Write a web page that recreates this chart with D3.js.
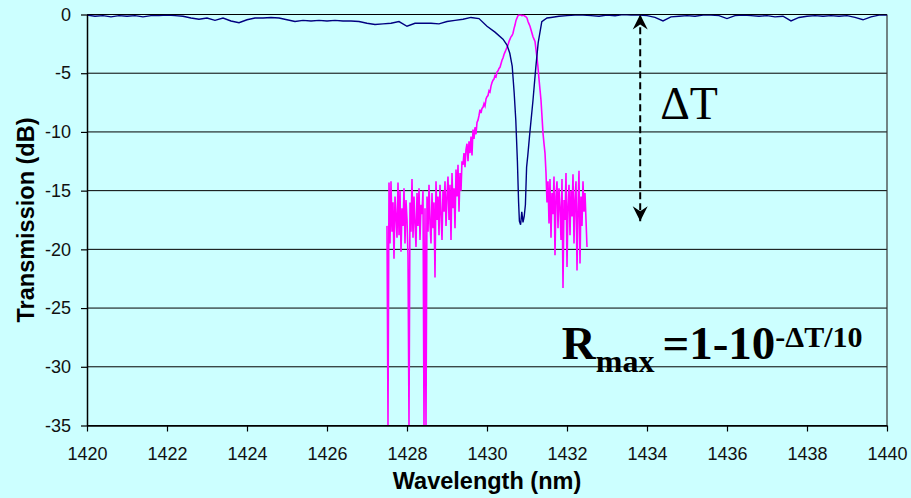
<!DOCTYPE html>
<html>
<head>
<meta charset="utf-8">
<script src="https://cdn.jsdelivr.net/npm/d3@7"></script>
<style>
  body { margin: 0; background: #ccffff; }
  .chart { display: block; background: #ccffff; }
  .axis text { font-family: "Liberation Sans", Arial, sans-serif; font-size: 18px; fill: #111; }
  .axis .domain { stroke: #000; stroke-width: 1.5; }
  .axis line { stroke: #000; stroke-width: 1.2; }
  .grid line { stroke: #000; stroke-width: 1; }
  .title { font-family: "Liberation Sans", Arial, sans-serif; font-weight: bold; font-size: 23.5px; fill: #000; }
</style>
</head>
<body>
<svg class="chart"></svg>
<script>
var margin = {top: 14.5, right: 24, bottom: 72.5, left: 87},
    width = 911 - margin.left - margin.right,
    height = 498 - margin.top - margin.bottom;

var xTicks = [1420, 1422, 1424, 1426, 1428, 1430, 1432, 1434, 1436, 1438, 1440];
var yTicks = [0, -5, -10, -15, -20, -25, -30, -35];

// blue (navy) trace: flat parts on a 0.2 nm grid, the notch as [nm, dB] pairs
var blueLeftStart = 1420, blueRightStart = 1431.6, blueStep = 0.2;
var blueLeft = [
  -0.05, -0.15, -0.1, -0.2, -0.1,
  -0.15, -0.1, -0.2, -0.1, -0.1,
  -0.05, -0.1, -0.15, -0.3, -0.4,
  -0.3, -0.5, -0.3, -0.55, -0.7,
  -0.45, -0.3, -0.3, -0.25, -0.3,
  -0.45, -0.6, -0.5, -0.55, -0.5,
  -0.55, -0.5, -0.55, -0.55, -0.6,
  -0.75, -0.85, -0.8, -0.75, -0.6,
  -1.0, -0.75, -0.75, -0.75, -0.8,
  -0.6, -0.5, -0.4, -0.25, -0.35,
  -1.0, -1.5, -2.1];
var blueNotch = [
  [1430.5, -2.6], [1430.57, -3.3], [1430.63, -4.4], [1430.68, -6.7], [1430.72, -9.0],
  [1430.76, -12.5], [1430.79, -16], [1430.81, -17.6], [1430.84, -17.9], [1430.87, -16.8],
  [1430.9, -17.7], [1430.93, -17.2], [1430.96, -16.2], [1430.99, -13], [1431.02, -12],
  [1431.07, -10.1], [1431.15, -7.3], [1431.22, -4.5], [1431.28, -2.4], [1431.37, -0.6],
  [1431.5, -0.3]];
var blueRight = [
  -0.25, -0.15,
  -0.1, -0.05, -0.05, -0.1, -0.15,
  -0.05, -0.1, 0, -0.05, -0.05,
  -0.1, -0.25, -0.55, -0.2, -0.15,
  -0.1, -0.15, -0.05, -0.05, -0.1,
  -0.35, -0.1, -0.05, -0.1, -0.15,
  -0.1, -0.2, -0.15, -0.55, -0.25,
  -0.15, -0.1, -0.15, -0.1, -0.15,
  -0.1, -0.25, -0.45, -0.2, -0.05,
  -0.05];

// magenta trace on a 0.025 nm grid from 1427.5 nm
var magStart = 1427.5, magStep = 0.025;
var magNoiseLeft = [
  -18.0, -35, -14.3, -19.5, -14.2, -18.5, -16.0, -20.8, -15.5, -17.2,
  -19.0, -14.3, -18.8, -15.0, -20.2, -16.5, -18.0, -14.8, -19.5, -15.8,
  -17.5, -20.5, -35, -16.0, -18.5, -14.0, -19.0, -15.5, -17.8, -19.8,
  -15.2, -18.0, -14.8, -19.2, -16.2, -17.0, -15.0, -35, -16.5, -35,
  -15.5, -18.5, -14.5, -17.8, -19.5, -15.2, -18.2, -16.0, -22.4, -14.2,
  -17.5, -15.5, -18.8, -14.5, -17.0, -19.2, -15.0, -16.8, -14.2, -18.0,
  -15.5, -13.8, -17.5, -14.5, -19.2, -13.5, -16.5, -14.8, -18.2, -13.2,
  -15.5, -12.8, -16.8, -13.5, -15.0, -12.5, -12.8, -11.8, -13.0, -11.5];
var magPeak = [
  -11.0, -12.5, -10.8, -11.8, -10.4, -12.0, -9.8, -10.6, -9.6, -10.2,
  -9.2, -9.0, -8.6, -8.1, -8.4, -8.0, -7.9, -7.6, -7.8, -7.2,
  -7.0, -6.9, -6.5, -6.6, -6.1, -5.8, -5.6, -5.5, -5.2, -5.3,
  -4.9, -4.8, -4.6, -4.5, -4.2, -3.9, -3.7, -3.4, -3.2, -3.0,
  -2.8, -2.6, -2.3, -2.1, -1.9, -1.8, -1.6, -1.2, -0.9, -0.5,
  -0.3, -0.1, 0.0, -0.05, 0.0, -0.1, -0.05, -0.1, -0.15, -0.2,
  -0.3, -0.6, -0.8, -1.0, -1.3, -1.6, -1.9, -2.1, -2.3, -3.0,
  -3.7, -4.5, -5.5, -6.4, -7.3, -8.7, -10.1, -11.0];
var magNoiseRight = [
  -11.8, -13.5, -16.0, -14.2, -17.8, -14.0, -19.0, -15.2, -17.0, -13.8,
  -20.5, -15.5, -14.2, -18.2, -14.8, -16.5, -19.2, -14.0, -23.3, -15.8,
  -17.5, -13.5, -21.5, -16.2, -14.5, -18.8, -15.0, -17.2, -13.6, -19.5,
  -15.8, -14.2, -21.8, -16.5, -13.3, -21.2, -15.5, -18.0, -14.2, -16.8,
  -15.2, -17.5, -19.8];

// annotation: double arrow for delta T
var arrowNm = 1433.83, arrowFrom = 0, arrowTo = -17.6;

var blueData = blueLeft.map(function(d, i) { return [blueLeftStart + i * blueStep, d]; })
  .concat(blueNotch)
  .concat(blueRight.map(function(d, i) { return [blueRightStart + i * blueStep, d]; }));

var magData = magNoiseLeft.concat(magPeak, magNoiseRight)
  .map(function(d, i) { return [magStart + i * magStep, d]; });

var x = d3.scaleLinear().domain([1420, 1440]).range([0, width]);
var y = d3.scaleLinear().domain([0, -35]).range([0, height]);

var svg = d3.select(".chart")
    .attr("width", 911)
    .attr("height", 498)
  .append("g")
    .attr("transform", "translate(" + margin.left + "," + margin.top + ")");

svg.append("defs").append("clipPath")
    .attr("id", "clip")
  .append("rect")
    .attr("width", width)
    .attr("height", height);

svg.append("g")
    .attr("class", "grid")
  .selectAll("line")
    .data(yTicks)
  .enter().append("line")
    .attr("x1", 0)
    .attr("x2", width)
    .attr("y1", function(d) { return y(d); })
    .attr("y2", function(d) { return y(d); });

svg.append("line")
    .attr("x1", width).attr("x2", width)
    .attr("y1", 0).attr("y2", height)
    .attr("stroke", "#333")
    .attr("stroke-width", 1.2);

var line = d3.line()
    .x(function(d) { return x(d[0]); })
    .y(function(d) { return y(d[1]); });

var plot = svg.append("g").attr("clip-path", "url(#clip)");

plot.append("path")
    .datum(magData)
    .attr("fill", "none")
    .attr("stroke", "#ff00ff")
    .attr("stroke-width", 1.6)
    .attr("d", line);

plot.append("path")
    .datum(blueData)
    .attr("fill", "none")
    .attr("stroke", "#000080")
    .attr("stroke-width", 1.4)
    .attr("d", line);

svg.append("g")
    .attr("class", "x axis")
    .attr("transform", "translate(0," + height + ")")
    .call(d3.axisBottom(x).tickValues(xTicks).tickFormat(function(d) { return String(d); })
      .tickSize(6).tickSizeOuter(0).tickPadding(16));

svg.append("g")
    .attr("class", "y axis")
    .call(d3.axisLeft(y).tickValues(yTicks).tickFormat(function(d) { return String(d); })
      .tickSize(6).tickSizeOuter(0).tickPadding(10));

svg.append("text")
    .attr("class", "title")
    .attr("x", width / 2)
    .attr("y", height + 63)
    .style("text-anchor", "middle")
    .text("Wavelength (nm)");

svg.append("text")
    .attr("class", "title")
    .attr("transform", "translate(" + (33.5 - margin.left) + "," + height / 2 + ") rotate(-90)")
    .style("text-anchor", "middle")
    .text("Transmission (dB)");

// arrow heads
svg.select("defs").append("marker")
    .attr("id", "head")
    .attr("viewBox", "-16 -8 16 16")
    .attr("refX", 0)
    .attr("refY", 0)
    .attr("markerWidth", 16)
    .attr("markerHeight", 16)
    .attr("markerUnits", "userSpaceOnUse")
    .attr("orient", "auto-start-reverse")
  .append("path")
    .attr("d", "M0,0L-15,-7.5L-10,0L-15,7.5Z")
    .attr("fill", "#000");

svg.append("line")
    .attr("x1", x(arrowNm)).attr("x2", x(arrowNm))
    .attr("y1", y(arrowTo)).attr("y2", y(arrowFrom))
    .attr("stroke", "#000")
    .attr("stroke-width", 2)
    .attr("stroke-dasharray", "7,4")
    .attr("marker-start", "url(#head)")
    .attr("marker-end", "url(#head)");

svg.append("text")
    .attr("x", x(1434.33))
    .attr("y", y(-8.93))
    .style("font-family", "'Liberation Serif', 'Times New Roman', serif")
    .style("font-size", "46px")
    .text("\u0394T");

var formula = svg.append("text")
    .attr("x", x(1431.87))
    .attr("y", y(-29.3))
    .style("font-family", "'Liberation Serif', 'Times New Roman', serif")
    .style("font-weight", "bold")
    .style("font-size", "47px");

formula.append("tspan").text("R");
formula.append("tspan").attr("dy", 13).style("font-size", "32px").text("max");
formula.append("tspan").attr("dy", -13).attr("dx", 8).text("=1-10");
formula.append("tspan").attr("dy", -12).style("font-size", "30px").text("-\u0394T/10");
</script>
</body>
</html>
